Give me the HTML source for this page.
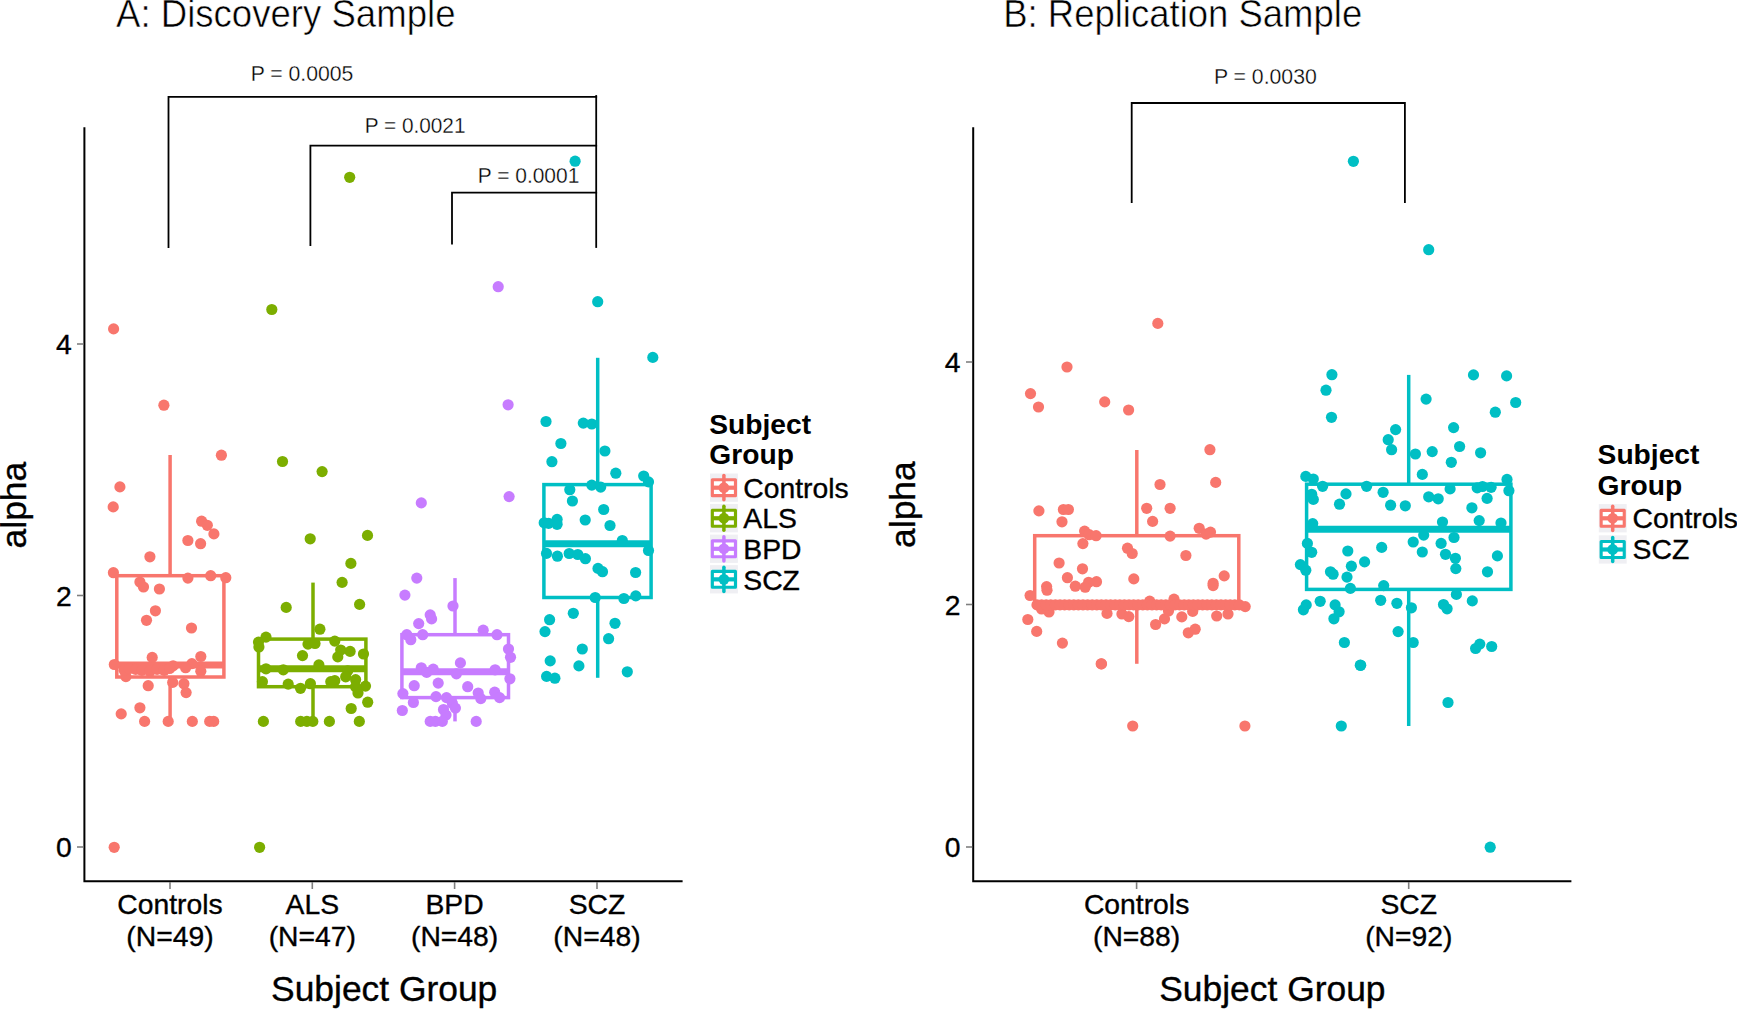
<!DOCTYPE html>
<html lang="en"><head><meta charset="utf-8"><title>Alpha by Subject Group</title>
<style>
html,body{margin:0;padding:0;background:#fff}
body{width:1737px;height:1009px;overflow:hidden}
svg{display:block}
</style></head><body>
<svg width="1737" height="1009" viewBox="0 0 1737 1009">
<rect width="1737" height="1009" fill="#fff"/>
<g stroke="#F8766D" stroke-width="3.5" fill="none"><line x1="170.1" y1="455" x2="170.1" y2="575.7"/><line x1="170.1" y1="677.0" x2="170.1" y2="721.4"/><rect x="116.8" y="575.7" width="107.1" height="101.3"/><line x1="116.8" y1="665.0" x2="223.9" y2="665.0" stroke-width="7"/></g>
<g stroke="#7CAE00" stroke-width="3.5" fill="none"><line x1="313" y1="582.6" x2="313" y2="639.1"/><line x1="313" y1="686.7" x2="313" y2="721.4"/><rect x="258.5" y="639.1" width="107.4" height="47.6"/><line x1="258.5" y1="668.8" x2="365.9" y2="668.8" stroke-width="7"/></g>
<g stroke="#C77CFF" stroke-width="3.5" fill="none"><line x1="455" y1="578.1" x2="455" y2="634.7"/><line x1="455" y1="697.6" x2="455" y2="721.4"/><rect x="401.9" y="634.7" width="106.6" height="62.9"/><line x1="401.9" y1="671.8" x2="508.5" y2="671.8" stroke-width="7"/></g>
<g stroke="#00BFC4" stroke-width="3.5" fill="none"><line x1="597.7" y1="357.8" x2="597.7" y2="484.6"/><line x1="597.7" y1="597.5" x2="597.7" y2="677.8"/><rect x="543.9" y="484.6" width="107.2" height="112.9"/><line x1="543.9" y1="543.8" x2="651.1" y2="543.8" stroke-width="7"/></g>
<g stroke="#F8766D" stroke-width="3.5" fill="none"><line x1="1136.8" y1="450" x2="1136.8" y2="535.7"/><line x1="1136.8" y1="603.8" x2="1136.8" y2="663.8"/><rect x="1034.7" y="535.7" width="204.1" height="68.1"/><line x1="1034.7" y1="603.6" x2="1238.8" y2="603.6" stroke-width="7"/></g>
<g stroke="#00BFC4" stroke-width="3.5" fill="none"><line x1="1408.7" y1="374.9" x2="1408.7" y2="484.2"/><line x1="1408.7" y1="589.4" x2="1408.7" y2="726"/><rect x="1306.6" y="484.2" width="204.3" height="105.2"/><line x1="1306.6" y1="529.2" x2="1510.9" y2="529.2" stroke-width="7"/></g>
<g fill="#F8766D"><circle cx="113.6" cy="328.9" r="5.6"/><circle cx="163.9" cy="405.2" r="5.6"/><circle cx="221.4" cy="455.2" r="5.6"/><circle cx="119.9" cy="486.9" r="5.6"/><circle cx="113.2" cy="506.9" r="5.6"/><circle cx="201.6" cy="521.2" r="5.6"/><circle cx="207.3" cy="525.3" r="5.6"/><circle cx="213.9" cy="533.9" r="5.6"/><circle cx="187.9" cy="540.5" r="5.6"/><circle cx="200.6" cy="543.7" r="5.6"/><circle cx="149.9" cy="556.8" r="5.6"/><circle cx="113.4" cy="572.7" r="5.6"/><circle cx="187.9" cy="578.1" r="5.6"/><circle cx="210.7" cy="575.7" r="5.6"/><circle cx="225.8" cy="577.7" r="5.6"/><circle cx="139.9" cy="582.0" r="5.6"/><circle cx="143.5" cy="587.0" r="5.6"/><circle cx="159.4" cy="589.0" r="5.6"/><circle cx="155.4" cy="610.8" r="5.6"/><circle cx="146.5" cy="620.3" r="5.6"/><circle cx="191.5" cy="628.0" r="5.6"/><circle cx="114.3" cy="664.5" r="5.6"/><circle cx="152.2" cy="657.4" r="5.6"/><circle cx="200.8" cy="656.5" r="5.6"/><circle cx="191.9" cy="663.6" r="5.6"/><circle cx="185.6" cy="667.7" r="5.6"/><circle cx="200.8" cy="671.2" r="5.6"/><circle cx="173.1" cy="665.9" r="5.6"/><circle cx="125.9" cy="676.6" r="5.6"/><circle cx="124.1" cy="670.3" r="5.6"/><circle cx="129.4" cy="668.5" r="5.6"/><circle cx="135.7" cy="669.4" r="5.6"/><circle cx="141.9" cy="670.3" r="5.6"/><circle cx="150.0" cy="671.2" r="5.6"/><circle cx="157.1" cy="669.4" r="5.6"/><circle cx="164.2" cy="670.3" r="5.6"/><circle cx="169.6" cy="668.5" r="5.6"/><circle cx="148.2" cy="685.7" r="5.6"/><circle cx="172.7" cy="682.4" r="5.6"/><circle cx="183.9" cy="683.7" r="5.6"/><circle cx="186.1" cy="692.6" r="5.6"/><circle cx="139.9" cy="707.8" r="5.6"/><circle cx="121.2" cy="713.9" r="5.6"/><circle cx="144.6" cy="721.4" r="5.6"/><circle cx="168.2" cy="721.4" r="5.6"/><circle cx="192.3" cy="721.4" r="5.6"/><circle cx="209.7" cy="721.4" r="5.6"/><circle cx="213.7" cy="721.4" r="5.6"/><circle cx="114.2" cy="847.3" r="5.6"/></g>
<g fill="#7CAE00"><circle cx="349.7" cy="177.3" r="5.6"/><circle cx="271.8" cy="309.5" r="5.6"/><circle cx="282.5" cy="461.5" r="5.6"/><circle cx="322.1" cy="471.6" r="5.6"/><circle cx="310.2" cy="538.8" r="5.6"/><circle cx="367.5" cy="535.4" r="5.6"/><circle cx="350.9" cy="563.4" r="5.6"/><circle cx="342.1" cy="582.4" r="5.6"/><circle cx="286.2" cy="607.4" r="5.6"/><circle cx="359.6" cy="604.4" r="5.6"/><circle cx="319.9" cy="629.2" r="5.6"/><circle cx="266.0" cy="637.1" r="5.6"/><circle cx="258.5" cy="642.1" r="5.6"/><circle cx="258.9" cy="647.0" r="5.6"/><circle cx="334.8" cy="641.1" r="5.6"/><circle cx="308.0" cy="644.1" r="5.6"/><circle cx="315.0" cy="643.5" r="5.6"/><circle cx="340.7" cy="650.0" r="5.6"/><circle cx="350.1" cy="651.4" r="5.6"/><circle cx="363.5" cy="654.0" r="5.6"/><circle cx="302.5" cy="655.6" r="5.6"/><circle cx="337.8" cy="656.9" r="5.6"/><circle cx="318.9" cy="664.9" r="5.6"/><circle cx="266.0" cy="668.8" r="5.6"/><circle cx="283.3" cy="669.8" r="5.6"/><circle cx="347.7" cy="670.8" r="5.6"/><circle cx="345.7" cy="676.8" r="5.6"/><circle cx="334.8" cy="680.7" r="5.6"/><circle cx="330.8" cy="681.7" r="5.6"/><circle cx="355.6" cy="679.7" r="5.6"/><circle cx="262.4" cy="681.7" r="5.6"/><circle cx="288.2" cy="684.1" r="5.6"/><circle cx="310.4" cy="683.7" r="5.6"/><circle cx="300.5" cy="688.3" r="5.6"/><circle cx="365.5" cy="686.1" r="5.6"/><circle cx="355.6" cy="686.7" r="5.6"/><circle cx="358.0" cy="693.0" r="5.6"/><circle cx="367.7" cy="702.2" r="5.6"/><circle cx="351.2" cy="708.5" r="5.6"/><circle cx="263.4" cy="721.4" r="5.6"/><circle cx="300.7" cy="721.4" r="5.6"/><circle cx="306.9" cy="721.4" r="5.6"/><circle cx="312.8" cy="721.4" r="5.6"/><circle cx="329.4" cy="721.4" r="5.6"/><circle cx="359.3" cy="721.4" r="5.6"/><circle cx="259.6" cy="847.3" r="5.6"/></g>
<g fill="#C77CFF"><circle cx="498.2" cy="286.7" r="5.6"/><circle cx="508.1" cy="404.8" r="5.6"/><circle cx="509.1" cy="496.6" r="5.6"/><circle cx="421.3" cy="502.9" r="5.6"/><circle cx="416.8" cy="578.1" r="5.6"/><circle cx="404.9" cy="595.1" r="5.6"/><circle cx="453.0" cy="606.0" r="5.6"/><circle cx="430.2" cy="614.9" r="5.6"/><circle cx="431.6" cy="618.9" r="5.6"/><circle cx="418.7" cy="623.6" r="5.6"/><circle cx="483.2" cy="630.2" r="5.6"/><circle cx="406.8" cy="634.7" r="5.6"/><circle cx="422.7" cy="634.7" r="5.6"/><circle cx="497.0" cy="634.7" r="5.6"/><circle cx="410.8" cy="639.7" r="5.6"/><circle cx="508.5" cy="649.0" r="5.6"/><circle cx="510.5" cy="657.3" r="5.6"/><circle cx="460.4" cy="662.9" r="5.6"/><circle cx="421.3" cy="667.8" r="5.6"/><circle cx="433.2" cy="669.2" r="5.6"/><circle cx="426.7" cy="672.4" r="5.6"/><circle cx="456.4" cy="673.8" r="5.6"/><circle cx="495.1" cy="669.8" r="5.6"/><circle cx="509.9" cy="678.8" r="5.6"/><circle cx="414.2" cy="685.7" r="5.6"/><circle cx="438.2" cy="683.1" r="5.6"/><circle cx="467.7" cy="686.7" r="5.6"/><circle cx="402.9" cy="693.6" r="5.6"/><circle cx="478.2" cy="693.0" r="5.6"/><circle cx="494.7" cy="692.2" r="5.6"/><circle cx="436.0" cy="696.6" r="5.6"/><circle cx="446.5" cy="697.6" r="5.6"/><circle cx="480.8" cy="698.6" r="5.6"/><circle cx="499.6" cy="697.6" r="5.6"/><circle cx="413.4" cy="702.5" r="5.6"/><circle cx="452.4" cy="703.5" r="5.6"/><circle cx="455.4" cy="708.1" r="5.6"/><circle cx="402.3" cy="710.5" r="5.6"/><circle cx="443.5" cy="709.5" r="5.6"/><circle cx="446.0" cy="715.0" r="5.6"/><circle cx="430.2" cy="721.4" r="5.6"/><circle cx="435.4" cy="721.4" r="5.6"/><circle cx="442.3" cy="721.4" r="5.6"/><circle cx="476.2" cy="721.4" r="5.6"/></g>
<g fill="#00BFC4"><circle cx="575.1" cy="161.2" r="5.6"/><circle cx="597.7" cy="301.7" r="5.6"/><circle cx="652.8" cy="357.4" r="5.6"/><circle cx="546.0" cy="421.5" r="5.6"/><circle cx="583.3" cy="423.1" r="5.6"/><circle cx="591.8" cy="424.0" r="5.6"/><circle cx="560.9" cy="443.5" r="5.6"/><circle cx="604.9" cy="451.0" r="5.6"/><circle cx="551.9" cy="461.7" r="5.6"/><circle cx="615.8" cy="473.2" r="5.6"/><circle cx="643.7" cy="476.0" r="5.6"/><circle cx="648.5" cy="481.9" r="5.6"/><circle cx="591.8" cy="485.1" r="5.6"/><circle cx="600.7" cy="487.1" r="5.6"/><circle cx="569.8" cy="489.7" r="5.6"/><circle cx="572.4" cy="501.0" r="5.6"/><circle cx="603.7" cy="509.5" r="5.6"/><circle cx="585.2" cy="520.0" r="5.6"/><circle cx="544.2" cy="522.8" r="5.6"/><circle cx="548.6" cy="523.3" r="5.6"/><circle cx="557.1" cy="519.4" r="5.6"/><circle cx="557.1" cy="524.3" r="5.6"/><circle cx="610.0" cy="525.5" r="5.6"/><circle cx="622.3" cy="540.5" r="5.6"/><circle cx="546.5" cy="553.4" r="5.6"/><circle cx="557.4" cy="556.2" r="5.6"/><circle cx="569.2" cy="553.5" r="5.6"/><circle cx="577.8" cy="554.5" r="5.6"/><circle cx="585.4" cy="558.7" r="5.6"/><circle cx="648.5" cy="550.5" r="5.6"/><circle cx="598.0" cy="568.4" r="5.6"/><circle cx="602.5" cy="571.7" r="5.6"/><circle cx="635.6" cy="572.5" r="5.6"/><circle cx="595.2" cy="597.5" r="5.6"/><circle cx="623.9" cy="598.5" r="5.6"/><circle cx="635.8" cy="595.9" r="5.6"/><circle cx="573.3" cy="613.3" r="5.6"/><circle cx="549.6" cy="619.7" r="5.6"/><circle cx="615.0" cy="623.3" r="5.6"/><circle cx="545.0" cy="631.6" r="5.6"/><circle cx="608.6" cy="638.7" r="5.6"/><circle cx="582.3" cy="649.0" r="5.6"/><circle cx="550.2" cy="660.9" r="5.6"/><circle cx="578.9" cy="665.9" r="5.6"/><circle cx="627.3" cy="671.8" r="5.6"/><circle cx="546.6" cy="676.4" r="5.6"/><circle cx="554.9" cy="678.2" r="5.6"/></g>
<g fill="#F8766D"><circle cx="1157.8" cy="323.4" r="5.6"/><circle cx="1067.0" cy="367.0" r="5.6"/><circle cx="1030.5" cy="393.6" r="5.6"/><circle cx="1038.5" cy="407.0" r="5.6"/><circle cx="1104.7" cy="401.9" r="5.6"/><circle cx="1128.6" cy="410.0" r="5.6"/><circle cx="1209.9" cy="449.7" r="5.6"/><circle cx="1160.0" cy="484.5" r="5.6"/><circle cx="1215.7" cy="482.4" r="5.6"/><circle cx="1038.9" cy="510.9" r="5.6"/><circle cx="1063.4" cy="509.5" r="5.6"/><circle cx="1068.4" cy="509.5" r="5.6"/><circle cx="1062.0" cy="521.8" r="5.6"/><circle cx="1146.7" cy="508.3" r="5.6"/><circle cx="1170.1" cy="508.3" r="5.6"/><circle cx="1152.6" cy="521.4" r="5.6"/><circle cx="1084.6" cy="531.1" r="5.6"/><circle cx="1089.2" cy="534.7" r="5.6"/><circle cx="1096.1" cy="535.7" r="5.6"/><circle cx="1199.2" cy="528.3" r="5.6"/><circle cx="1206.1" cy="534.1" r="5.6"/><circle cx="1210.5" cy="532.1" r="5.6"/><circle cx="1170.1" cy="536.1" r="5.6"/><circle cx="1082.9" cy="543.6" r="5.6"/><circle cx="1127.5" cy="548.2" r="5.6"/><circle cx="1132.2" cy="553.5" r="5.6"/><circle cx="1185.9" cy="555.5" r="5.6"/><circle cx="1059.1" cy="563.0" r="5.6"/><circle cx="1082.5" cy="568.8" r="5.6"/><circle cx="1067.4" cy="577.7" r="5.6"/><circle cx="1133.8" cy="578.9" r="5.6"/><circle cx="1224.2" cy="575.9" r="5.6"/><circle cx="1213.1" cy="583.3" r="5.6"/><circle cx="1213.1" cy="585.6" r="5.6"/><circle cx="1096.5" cy="581.7" r="5.6"/><circle cx="1088.6" cy="582.3" r="5.6"/><circle cx="1075.3" cy="586.2" r="5.6"/><circle cx="1085.2" cy="587.2" r="5.6"/><circle cx="1046.6" cy="586.6" r="5.6"/><circle cx="1047.0" cy="590.2" r="5.6"/><circle cx="1030.1" cy="595.5" r="5.6"/><circle cx="1149.7" cy="601.1" r="5.6"/><circle cx="1174.0" cy="599.1" r="5.6"/><circle cx="1245.2" cy="606.6" r="5.6"/><circle cx="1027.8" cy="619.5" r="5.6"/><circle cx="1049.0" cy="612.0" r="5.6"/><circle cx="1041.6" cy="609.0" r="5.6"/><circle cx="1107.0" cy="613.4" r="5.6"/><circle cx="1121.9" cy="614.0" r="5.6"/><circle cx="1128.8" cy="616.6" r="5.6"/><circle cx="1036.7" cy="631.4" r="5.6"/><circle cx="1062.4" cy="643.1" r="5.6"/><circle cx="1101.5" cy="663.9" r="5.6"/><circle cx="1155.6" cy="624.5" r="5.6"/><circle cx="1164.5" cy="618.9" r="5.6"/><circle cx="1168.5" cy="611.0" r="5.6"/><circle cx="1181.8" cy="616.9" r="5.6"/><circle cx="1192.7" cy="611.4" r="5.6"/><circle cx="1188.3" cy="632.8" r="5.6"/><circle cx="1195.2" cy="629.2" r="5.6"/><circle cx="1216.7" cy="616.0" r="5.6"/><circle cx="1228.0" cy="614.0" r="5.6"/><circle cx="1101.2" cy="663.8" r="5.6"/><circle cx="1132.7" cy="726.0" r="5.6"/><circle cx="1244.9" cy="726.0" r="5.6"/><circle cx="1037.0" cy="604.9" r="5.6"/><circle cx="1041.6" cy="604.9" r="5.6"/><circle cx="1046.2" cy="604.9" r="5.6"/><circle cx="1050.8" cy="604.9" r="5.6"/><circle cx="1055.4" cy="604.9" r="5.6"/><circle cx="1060.0" cy="604.9" r="5.6"/><circle cx="1064.6" cy="604.9" r="5.6"/><circle cx="1069.2" cy="604.9" r="5.6"/><circle cx="1073.8" cy="604.9" r="5.6"/><circle cx="1078.4" cy="604.9" r="5.6"/><circle cx="1083.0" cy="604.9" r="5.6"/><circle cx="1087.6" cy="604.9" r="5.6"/><circle cx="1092.2" cy="604.9" r="5.6"/><circle cx="1096.8" cy="604.9" r="5.6"/><circle cx="1101.4" cy="604.9" r="5.6"/><circle cx="1106.0" cy="604.9" r="5.6"/><circle cx="1110.6" cy="604.9" r="5.6"/><circle cx="1115.2" cy="604.9" r="5.6"/><circle cx="1119.8" cy="604.9" r="5.6"/><circle cx="1124.4" cy="604.9" r="5.6"/><circle cx="1129.0" cy="604.9" r="5.6"/><circle cx="1133.6" cy="604.9" r="5.6"/><circle cx="1138.2" cy="604.9" r="5.6"/><circle cx="1142.8" cy="604.9" r="5.6"/><circle cx="1147.4" cy="604.9" r="5.6"/><circle cx="1152.0" cy="604.9" r="5.6"/><circle cx="1156.6" cy="604.9" r="5.6"/><circle cx="1161.2" cy="604.9" r="5.6"/><circle cx="1165.8" cy="604.9" r="5.6"/><circle cx="1170.4" cy="604.9" r="5.6"/><circle cx="1175.0" cy="604.9" r="5.6"/><circle cx="1179.6" cy="604.9" r="5.6"/><circle cx="1184.2" cy="604.9" r="5.6"/><circle cx="1188.8" cy="604.9" r="5.6"/><circle cx="1193.4" cy="604.9" r="5.6"/><circle cx="1198.0" cy="604.9" r="5.6"/><circle cx="1202.6" cy="604.9" r="5.6"/><circle cx="1207.2" cy="604.9" r="5.6"/><circle cx="1211.8" cy="604.9" r="5.6"/><circle cx="1216.4" cy="604.9" r="5.6"/><circle cx="1221.0" cy="604.9" r="5.6"/><circle cx="1225.6" cy="604.9" r="5.6"/><circle cx="1230.2" cy="604.9" r="5.6"/><circle cx="1234.8" cy="604.9" r="5.6"/><circle cx="1239.4" cy="604.9" r="5.6"/></g>
<g fill="#00BFC4"><circle cx="1353.4" cy="161.3" r="5.6"/><circle cx="1428.7" cy="249.7" r="5.6"/><circle cx="1331.9" cy="374.7" r="5.6"/><circle cx="1326.0" cy="390.2" r="5.6"/><circle cx="1331.5" cy="417.3" r="5.6"/><circle cx="1473.5" cy="374.9" r="5.6"/><circle cx="1506.6" cy="375.9" r="5.6"/><circle cx="1426.1" cy="399.1" r="5.6"/><circle cx="1515.7" cy="402.5" r="5.6"/><circle cx="1495.3" cy="412.2" r="5.6"/><circle cx="1453.6" cy="427.6" r="5.6"/><circle cx="1395.6" cy="429.6" r="5.6"/><circle cx="1388.2" cy="439.7" r="5.6"/><circle cx="1391.6" cy="449.7" r="5.6"/><circle cx="1459.6" cy="446.5" r="5.6"/><circle cx="1432.2" cy="451.6" r="5.6"/><circle cx="1415.4" cy="454.0" r="5.6"/><circle cx="1480.6" cy="452.8" r="5.6"/><circle cx="1451.3" cy="462.3" r="5.6"/><circle cx="1422.3" cy="474.4" r="5.6"/><circle cx="1305.8" cy="476.4" r="5.6"/><circle cx="1313.3" cy="479.0" r="5.6"/><circle cx="1507.0" cy="479.4" r="5.6"/><circle cx="1322.6" cy="486.3" r="5.6"/><circle cx="1366.6" cy="486.3" r="5.6"/><circle cx="1383.1" cy="492.3" r="5.6"/><circle cx="1346.0" cy="493.9" r="5.6"/><circle cx="1450.1" cy="488.9" r="5.6"/><circle cx="1477.2" cy="487.9" r="5.6"/><circle cx="1482.5" cy="486.5" r="5.6"/><circle cx="1491.1" cy="487.3" r="5.6"/><circle cx="1508.9" cy="490.7" r="5.6"/><circle cx="1311.7" cy="494.3" r="5.6"/><circle cx="1313.3" cy="499.4" r="5.6"/><circle cx="1428.7" cy="496.8" r="5.6"/><circle cx="1438.2" cy="498.8" r="5.6"/><circle cx="1487.1" cy="498.4" r="5.6"/><circle cx="1339.5" cy="504.2" r="5.6"/><circle cx="1390.6" cy="505.2" r="5.6"/><circle cx="1405.3" cy="505.8" r="5.6"/><circle cx="1471.9" cy="507.8" r="5.6"/><circle cx="1479.2" cy="520.6" r="5.6"/><circle cx="1442.5" cy="522.0" r="5.6"/><circle cx="1501.0" cy="523.0" r="5.6"/><circle cx="1312.7" cy="523.6" r="5.6"/><circle cx="1423.7" cy="535.1" r="5.6"/><circle cx="1454.0" cy="537.5" r="5.6"/><circle cx="1413.2" cy="542.0" r="5.6"/><circle cx="1441.1" cy="543.4" r="5.6"/><circle cx="1307.4" cy="543.4" r="5.6"/><circle cx="1381.7" cy="547.4" r="5.6"/><circle cx="1347.8" cy="551.0" r="5.6"/><circle cx="1311.7" cy="552.3" r="5.6"/><circle cx="1422.3" cy="552.0" r="5.6"/><circle cx="1445.5" cy="554.3" r="5.6"/><circle cx="1455.4" cy="558.3" r="5.6"/><circle cx="1497.4" cy="555.9" r="5.6"/><circle cx="1364.6" cy="561.9" r="5.6"/><circle cx="1300.4" cy="564.6" r="5.6"/><circle cx="1351.4" cy="566.2" r="5.6"/><circle cx="1305.8" cy="570.2" r="5.6"/><circle cx="1455.8" cy="568.6" r="5.6"/><circle cx="1487.5" cy="571.8" r="5.6"/><circle cx="1330.5" cy="571.8" r="5.6"/><circle cx="1333.1" cy="574.2" r="5.6"/><circle cx="1347.0" cy="577.1" r="5.6"/><circle cx="1383.7" cy="585.6" r="5.6"/><circle cx="1350.4" cy="588.4" r="5.6"/><circle cx="1456.4" cy="594.4" r="5.6"/><circle cx="1320.2" cy="601.3" r="5.6"/><circle cx="1380.7" cy="600.3" r="5.6"/><circle cx="1472.3" cy="600.9" r="5.6"/><circle cx="1396.9" cy="603.3" r="5.6"/><circle cx="1306.2" cy="604.9" r="5.6"/><circle cx="1303.4" cy="609.8" r="5.6"/><circle cx="1335.1" cy="604.9" r="5.6"/><circle cx="1339.1" cy="611.8" r="5.6"/><circle cx="1333.9" cy="618.8" r="5.6"/><circle cx="1411.4" cy="607.8" r="5.6"/><circle cx="1443.5" cy="604.5" r="5.6"/><circle cx="1447.1" cy="608.8" r="5.6"/><circle cx="1398.1" cy="631.6" r="5.6"/><circle cx="1344.4" cy="642.5" r="5.6"/><circle cx="1413.2" cy="642.5" r="5.6"/><circle cx="1479.8" cy="644.1" r="5.6"/><circle cx="1475.6" cy="648.5" r="5.6"/><circle cx="1491.7" cy="646.5" r="5.6"/><circle cx="1360.7" cy="665.3" r="5.6"/><circle cx="1360.3" cy="665.2" r="5.6"/><circle cx="1448.0" cy="702.5" r="5.6"/><circle cx="1341.3" cy="726.0" r="5.6"/><circle cx="1490.2" cy="847.2" r="5.6"/></g>
<g stroke="#000" stroke-width="2" fill="none"><path d="M84.4 127.3V881.2H682.6"/><path d="M973.2 127.3V881.2H1571.4"/></g>
<g stroke="#7f7f7f" stroke-width="1.6"><line x1="170" y1="882" x2="170" y2="889"/><line x1="312.3" y1="882" x2="312.3" y2="889"/><line x1="454.6" y1="882" x2="454.6" y2="889"/><line x1="597" y1="882" x2="597" y2="889"/><line x1="1136.6" y1="882" x2="1136.6" y2="889"/><line x1="1408.7" y1="882" x2="1408.7" y2="889"/><line x1="77" y1="344" x2="83.4" y2="344"/><line x1="77" y1="595.5" x2="83.4" y2="595.5"/><line x1="77" y1="847" x2="83.4" y2="847"/><line x1="966" y1="362" x2="972.2" y2="362"/><line x1="966" y1="604.5" x2="972.2" y2="604.5"/><line x1="966" y1="847" x2="972.2" y2="847"/></g>
<g stroke="#000" stroke-width="1.8" fill="none" stroke-linecap="square"><path d="M168.5 247V96.8H596.2"/><path d="M310.4 245V145.6H596.2"/><path d="M452 243.5V192.7H596.2"/><path d="M596.2 96V247"/><path d="M1131.7 202V103H1404.9V202"/></g>
<g font-family="Liberation Sans, Arial, Helvetica, sans-serif" fill="#000" stroke="#fff" stroke-width="0.55">
<text x="116" y="27.3" font-size="38.5" textLength="339.5" lengthAdjust="spacingAndGlyphs">A: Discovery Sample</text>
<text x="1003.2" y="27.3" font-size="38.5" textLength="359" lengthAdjust="spacingAndGlyphs">B: Replication Sample</text>
</g>
<g font-family="Liberation Sans, Arial, Helvetica, sans-serif" fill="#000" stroke="#fff" stroke-width="0.3" font-size="21.3">
<text x="250.7" y="80.6" textLength="102.7" lengthAdjust="spacingAndGlyphs">P = 0.0005</text>
<text x="364.7" y="133.4" textLength="100.8" lengthAdjust="spacingAndGlyphs">P = 0.0021</text>
<text x="477.8" y="182.6" textLength="101.5" lengthAdjust="spacingAndGlyphs">P = 0.0001</text>
<text x="1213.9" y="84" textLength="102.9" lengthAdjust="spacingAndGlyphs">P = 0.0030</text>
</g>
<g font-family="Liberation Sans, Arial, Helvetica, sans-serif" fill="#000" stroke="#000" stroke-width="0.35">
<text x="71.7" y="354.1" font-size="28.3" text-anchor="end">4</text>
<text x="71.7" y="605.6" font-size="28.3" text-anchor="end">2</text>
<text x="71.7" y="857.1" font-size="28.3" text-anchor="end">0</text>
<text x="960.6" y="372.1" font-size="28.3" text-anchor="end">4</text>
<text x="960.6" y="614.6" font-size="28.3" text-anchor="end">2</text>
<text x="960.6" y="857.1" font-size="28.3" text-anchor="end">0</text>
<text x="170" y="914.2" font-size="28.3" text-anchor="middle">Controls</text>
<text x="170" y="945.5" font-size="28.3" text-anchor="middle">(N=49)</text>
<text x="312.3" y="914.2" font-size="28.3" text-anchor="middle">ALS</text>
<text x="312.3" y="945.5" font-size="28.3" text-anchor="middle">(N=47)</text>
<text x="454.6" y="914.2" font-size="28.3" text-anchor="middle">BPD</text>
<text x="454.6" y="945.5" font-size="28.3" text-anchor="middle">(N=48)</text>
<text x="597" y="914.2" font-size="28.3" text-anchor="middle">SCZ</text>
<text x="597" y="945.5" font-size="28.3" text-anchor="middle">(N=48)</text>
<text x="1136.6" y="914.2" font-size="28.3" text-anchor="middle">Controls</text>
<text x="1136.6" y="945.5" font-size="28.3" text-anchor="middle">(N=88)</text>
<text x="1408.8" y="914.2" font-size="28.3" text-anchor="middle">SCZ</text>
<text x="1408.8" y="945.5" font-size="28.3" text-anchor="middle">(N=92)</text>
<text x="384.2" y="1000.6" font-size="35.4" text-anchor="middle">Subject Group</text>
<text x="1272.4" y="1000.6" font-size="35.4" text-anchor="middle">Subject Group</text>
<text transform="translate(26.4 505.1) rotate(-90)" font-size="35.4" text-anchor="middle">alpha</text>
<text transform="translate(914.6 504.6) rotate(-90)" font-size="35.4" text-anchor="middle">alpha</text>
<text x="743.3" y="497.9" font-size="28.3">Controls</text>
<text x="743.3" y="528.4" font-size="28.3">ALS</text>
<text x="743.3" y="559.0" font-size="28.3">BPD</text>
<text x="743.3" y="589.5" font-size="28.3">SCZ</text>
<text x="1632.6" y="527.9" font-size="28.3">Controls</text>
<text x="1632.6" y="559.3" font-size="28.3">SCZ</text>
</g>
<g font-family="Liberation Sans, Arial, Helvetica, sans-serif" fill="#000" font-weight="bold" font-size="28.2">
<text x="709.3" y="433.6">Subject</text>
<text x="709.3" y="463.7">Group</text>
<text x="1597.6" y="464.4">Subject</text>
<text x="1597.6" y="494.5">Group</text>
</g>
<rect x="710" y="473.50" width="27.9" height="28.3" fill="#efeff3"/><g stroke="#F8766D" fill="none" stroke-width="3.1" stroke-linejoin="round"><rect x="712.35" y="479.75" width="23.1" height="15.9" fill="#fff"/><line x1="712.40" y1="487.70" x2="735.40" y2="487.70" stroke-width="4.2"/><line x1="723.9" y1="475.60" x2="723.9" y2="499.80" stroke-width="3.5" stroke-linecap="round"/></g><circle cx="723.9" cy="487.70" r="5.4" fill="#F8766D"/>
<rect x="710" y="504.05" width="27.9" height="28.3" fill="#efeff3"/><g stroke="#7CAE00" fill="none" stroke-width="3.1" stroke-linejoin="round"><rect x="712.35" y="510.30" width="23.1" height="15.9" fill="#fff"/><line x1="712.40" y1="518.25" x2="735.40" y2="518.25" stroke-width="4.2"/><line x1="723.9" y1="506.15" x2="723.9" y2="530.35" stroke-width="3.5" stroke-linecap="round"/></g><circle cx="723.9" cy="518.25" r="5.4" fill="#7CAE00"/>
<rect x="710" y="534.60" width="27.9" height="28.3" fill="#efeff3"/><g stroke="#C77CFF" fill="none" stroke-width="3.1" stroke-linejoin="round"><rect x="712.35" y="540.85" width="23.1" height="15.9" fill="#fff"/><line x1="712.40" y1="548.80" x2="735.40" y2="548.80" stroke-width="4.2"/><line x1="723.9" y1="536.70" x2="723.9" y2="560.90" stroke-width="3.5" stroke-linecap="round"/></g><circle cx="723.9" cy="548.80" r="5.4" fill="#C77CFF"/>
<rect x="710" y="565.15" width="27.9" height="28.3" fill="#efeff3"/><g stroke="#00BFC4" fill="none" stroke-width="3.1" stroke-linejoin="round"><rect x="712.35" y="571.40" width="23.1" height="15.9" fill="#fff"/><line x1="712.40" y1="579.35" x2="735.40" y2="579.35" stroke-width="4.2"/><line x1="723.9" y1="567.25" x2="723.9" y2="591.45" stroke-width="3.5" stroke-linecap="round"/></g><circle cx="723.9" cy="579.35" r="5.4" fill="#00BFC4"/>
<rect x="1598.8" y="504.10" width="27.9" height="28.3" fill="#efeff3"/><g stroke="#F8766D" fill="none" stroke-width="3.1" stroke-linejoin="round"><rect x="1601.15" y="510.35" width="23.1" height="15.9" fill="#fff"/><line x1="1601.20" y1="518.30" x2="1624.20" y2="518.30" stroke-width="4.2"/><line x1="1612.7" y1="506.20" x2="1612.7" y2="530.40" stroke-width="3.5" stroke-linecap="round"/></g><circle cx="1612.7" cy="518.30" r="5.4" fill="#F8766D"/>
<rect x="1598.8" y="535.30" width="27.9" height="28.3" fill="#efeff3"/><g stroke="#00BFC4" fill="none" stroke-width="3.1" stroke-linejoin="round"><rect x="1601.15" y="541.55" width="23.1" height="15.9" fill="#fff"/><line x1="1601.20" y1="549.50" x2="1624.20" y2="549.50" stroke-width="4.2"/><line x1="1612.7" y1="537.40" x2="1612.7" y2="561.60" stroke-width="3.5" stroke-linecap="round"/></g><circle cx="1612.7" cy="549.50" r="5.4" fill="#00BFC4"/>
</svg>
</body></html>
